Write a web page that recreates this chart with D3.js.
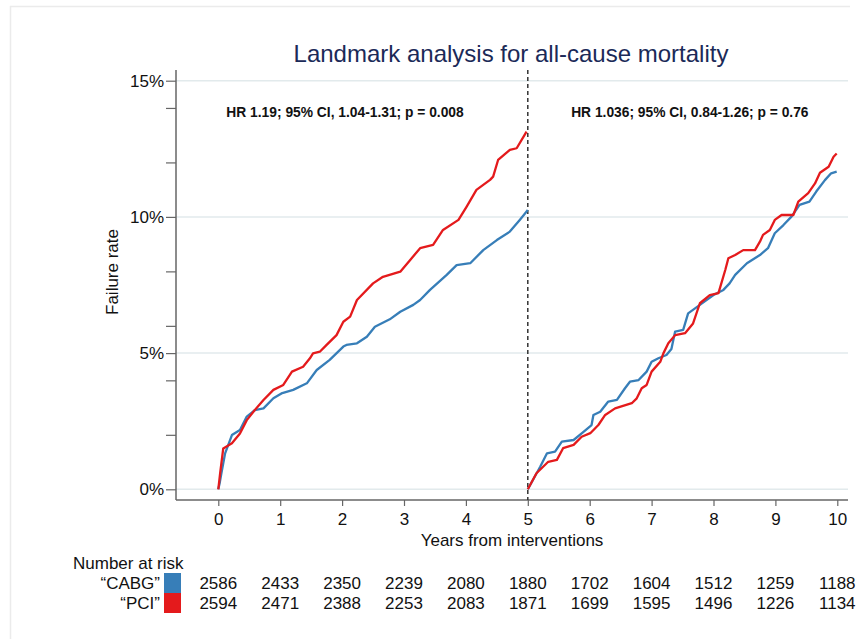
<!DOCTYPE html>
<html>
<head>
<meta charset="utf-8">
<script src="https://cdn.jsdelivr.net/npm/d3@7"></script>
<style>
  body { margin: 0; background: #fff; }
  svg { display: block; font-family: "Liberation Sans", Arial, sans-serif; }
</style>
</head>
<body>
<svg width="858" height="639"></svg>
<script>
// failure curves, [years, failure %]
var cabgEarly = [[0,0],[0.02,0.2],[0.05,0.59],[0.11,1.32],[0.22,1.99],[0.35,2.18],[0.46,2.67],[0.59,2.91],[0.73,2.97],
  [0.89,3.34],[1.02,3.52],[1.21,3.65],[1.43,3.89],[1.59,4.38],[1.80,4.75],[2.02,5.24],[2.07,5.30],[2.24,5.36],[2.40,5.6],
  [2.53,5.97],[2.77,6.24],[2.94,6.52],[3.15,6.77],[3.26,6.95],[3.42,7.32],[3.69,7.87],[3.85,8.23],[4.07,8.30],
  [4.28,8.78],[4.50,9.15],[4.71,9.46],[4.87,9.89],[5.0,10.25]];
var pciEarly = [[0,0],[0.03,0.59],[0.08,1.5],[0.22,1.69],[0.35,2.05],[0.46,2.54],[0.59,2.91],[0.73,3.28],[0.89,3.65],
  [1.05,3.83],[1.19,4.32],[1.37,4.5],[1.48,4.81],[1.53,4.99],[1.64,5.05],[1.75,5.3],[1.91,5.66],[2.02,6.15],[2.13,6.34],
  [2.24,6.95],[2.50,7.56],[2.66,7.80],[2.94,7.99],[3.10,8.42],[3.26,8.85],[3.47,8.97],[3.63,9.52],[3.88,9.89],
  [4.01,10.37],[4.17,10.99],[4.39,11.36],[4.44,11.48],[4.52,12.09],[4.71,12.46],[4.82,12.52],[4.98,13.13]];
var cabgLate = [[5.0,0],[5.01,0.04],[5.20,0.83],[5.31,1.32],[5.44,1.38],[5.55,1.75],[5.74,1.81],[5.90,2.11],[6.03,2.36],
  [6.06,2.73],[6.17,2.85],[6.30,3.22],[6.44,3.28],[6.57,3.71],[6.65,3.95],[6.79,4.01],[6.92,4.32],[7.00,4.68],
  [7.11,4.81],[7.24,4.93],[7.32,5.15],[7.38,5.79],[7.51,5.85],[7.59,6.46],[7.78,6.77],[8.00,7.13],[8.16,7.32],
  [8.26,7.56],[8.35,7.87],[8.54,8.30],[8.75,8.60],[8.88,8.85],[8.99,9.40],[9.13,9.70],[9.26,10.01],[9.39,10.44],
  [9.55,10.56],[9.66,10.93],[9.80,11.35],[9.90,11.60],[9.99,11.66]];
var pciLate = [[5.0,0],[5.14,0.59],[5.33,1.01],[5.47,1.08],[5.57,1.51],[5.74,1.63],[5.87,1.93],[6.01,2.06],[6.14,2.36],
  [6.25,2.73],[6.41,2.97],[6.68,3.16],[6.76,3.34],[6.84,3.71],[6.92,3.83],[7.00,4.32],[7.14,4.68],[7.19,4.99],
  [7.27,5.36],[7.38,5.66],[7.54,5.73],[7.67,6.09],[7.78,6.83],[7.94,7.13],[8.08,7.20],[8.19,8.05],[8.24,8.48],
  [8.35,8.60],[8.48,8.78],[8.67,8.78],[8.75,9.09],[8.80,9.34],[8.91,9.52],[8.99,9.89],[9.10,10.07],[9.29,10.07],
  [9.37,10.56],[9.53,10.87],[9.64,11.23],[9.72,11.62],[9.86,11.84],[9.94,12.21],[9.99,12.33]];

var xTicks = [0,1,2,3,4,5,6,7,8,9,10];
var yLabelTicks = [0,5,10,15];
var yMinorTicks = [2,4,6,8,12,14];
var riskCABG = [2586,2433,2350,2239,2080,1880,1702,1604,1512,1259,1188];
var riskPCI = [2594,2471,2388,2253,2083,1871,1699,1595,1496,1226,1134];
var hrTexts = ["HR 1.19; 95% CI, 1.04-1.31; p = 0.008", "HR 1.036; 95% CI, 0.84-1.26; p = 0.76"];

var blue = "#377eb8", red = "#e41a1c";

var svg = d3.select("svg");
var plotLeft = 176, plotRight = 848, plotTop = 70, plotBottom = 500;

var x = d3.scaleLinear().domain([0, 10]).range([218.3, 837.3]);
var y = d3.scaleLinear().domain([0, 15]).range([489.3, 80.7]);

// faint outer frame
svg.append("line").attr("x1", 10.5).attr("x2", 10.5).attr("y1", 6).attr("y2", 639)
  .attr("stroke", "#ebebeb").attr("stroke-width", 1.5);
svg.append("line").attr("x1", 10).attr("x2", 850).attr("y1", 6.5).attr("y2", 6.5)
  .attr("stroke", "#ebebeb").attr("stroke-width", 1.5);

// grid
svg.append("g").selectAll("line").data(yLabelTicks).enter().append("line")
  .attr("x1", plotLeft).attr("x2", plotRight)
  .attr("y1", d => y(d)).attr("y2", d => y(d))
  .attr("stroke", "#e2eaec").attr("stroke-width", 1.5);

// y axis
var yAxis = svg.append("g").attr("transform", "translate(" + plotLeft + ",0)")
  .call(d3.axisLeft(y).tickValues(yLabelTicks).tickSize(10).tickPadding(2).tickFormat(d => d + "%"));
yAxis.select(".domain").remove();
yAxis.selectAll("line").attr("stroke", "#666").attr("stroke-width", 1.2);
yAxis.selectAll("text").attr("font-size", 17).attr("fill", "#111").attr("font-family", null);
var yMinor = svg.append("g").attr("transform", "translate(" + plotLeft + ",0)")
  .call(d3.axisLeft(y).tickValues(yMinorTicks).tickSize(10).tickFormat(""));
yMinor.select(".domain").remove();
yMinor.selectAll("line").attr("stroke", "#666").attr("stroke-width", 1.2);
svg.append("line").attr("x1", plotLeft).attr("x2", plotLeft).attr("y1", plotTop).attr("y2", plotBottom)
  .attr("stroke", "#666").attr("stroke-width", 1.5);

// x axis
var xAxis = svg.append("g").attr("transform", "translate(0," + plotBottom + ")")
  .call(d3.axisBottom(x).tickValues(xTicks).tickSize(6).tickPadding(7));
xAxis.select(".domain").remove();
xAxis.selectAll("line").attr("stroke", "#666").attr("stroke-width", 1.2);
xAxis.selectAll("text").attr("font-size", 17).attr("fill", "#111").attr("font-family", null);
svg.append("line").attr("x1", plotLeft).attr("x2", plotRight).attr("y1", plotBottom).attr("y2", plotBottom)
  .attr("stroke", "#666").attr("stroke-width", 1.5);

// landmark line at 5 years
svg.append("line").attr("x1", x(5)).attr("x2", x(5)).attr("y1", plotTop).attr("y2", plotBottom)
  .attr("stroke", "#333").attr("stroke-width", 1.5).attr("stroke-dasharray", "4,3");

// curves
var line = d3.line().x(d => x(d[0])).y(d => y(d[1]));
[[cabgEarly, blue], [cabgLate, blue], [pciEarly, red], [pciLate, red]].forEach(function(s) {
  svg.append("path").datum(s[0]).attr("d", line)
    .attr("fill", "none").attr("stroke", s[1]).attr("stroke-width", 2.3)
    .attr("stroke-linejoin", "round");
});

// hazard ratio notes
svg.selectAll(".hr").data(hrTexts).enter().append("text")
  .attr("class", "hr")
  .attr("x", (d, i) => i == 0 ? x(0.13) : x(5.7))
  .attr("y", 117)
  .attr("font-size", 13.8).attr("font-weight", "bold").attr("fill", "#111")
  .text(d => d);

// titles
svg.append("text").attr("x", 511).attr("y", 62).attr("text-anchor", "middle")
  .attr("font-size", 24).attr("fill", "#1b2a58")
  .text("Landmark analysis for all-cause mortality");
svg.append("text").attr("x", 512).attr("y", 546).attr("text-anchor", "middle")
  .attr("font-size", 17).attr("fill", "#111")
  .text("Years from interventions");
svg.append("text").attr("transform", "translate(118,272) rotate(-90)")
  .attr("text-anchor", "middle").attr("font-size", 17).attr("fill", "#111")
  .text("Failure rate");

// number at risk table
svg.append("text").attr("x", 73).attr("y", 569).attr("font-size", 17).attr("fill", "#111")
  .text("Number at risk");
var rows = [["\u201cCABG\u201d", blue, riskCABG, 589], ["\u201cPCI\u201d", red, riskPCI, 609]];
rows.forEach(function(r) {
  svg.append("text").attr("x", 160).attr("y", r[3]).attr("text-anchor", "end")
    .attr("font-size", 17).attr("fill", "#111").text(r[0]);
  svg.append("rect").attr("x", 164).attr("y", r[3] - 16).attr("width", 17).attr("height", 20)
    .attr("fill", r[1]);
  svg.append("g").selectAll("text").data(r[2]).enter().append("text")
    .attr("x", (d, i) => x(xTicks[i])).attr("y", r[3])
    .attr("text-anchor", "middle").attr("font-size", 17).attr("fill", "#111")
    .text(d => d);
});
</script>
</body>
</html>
